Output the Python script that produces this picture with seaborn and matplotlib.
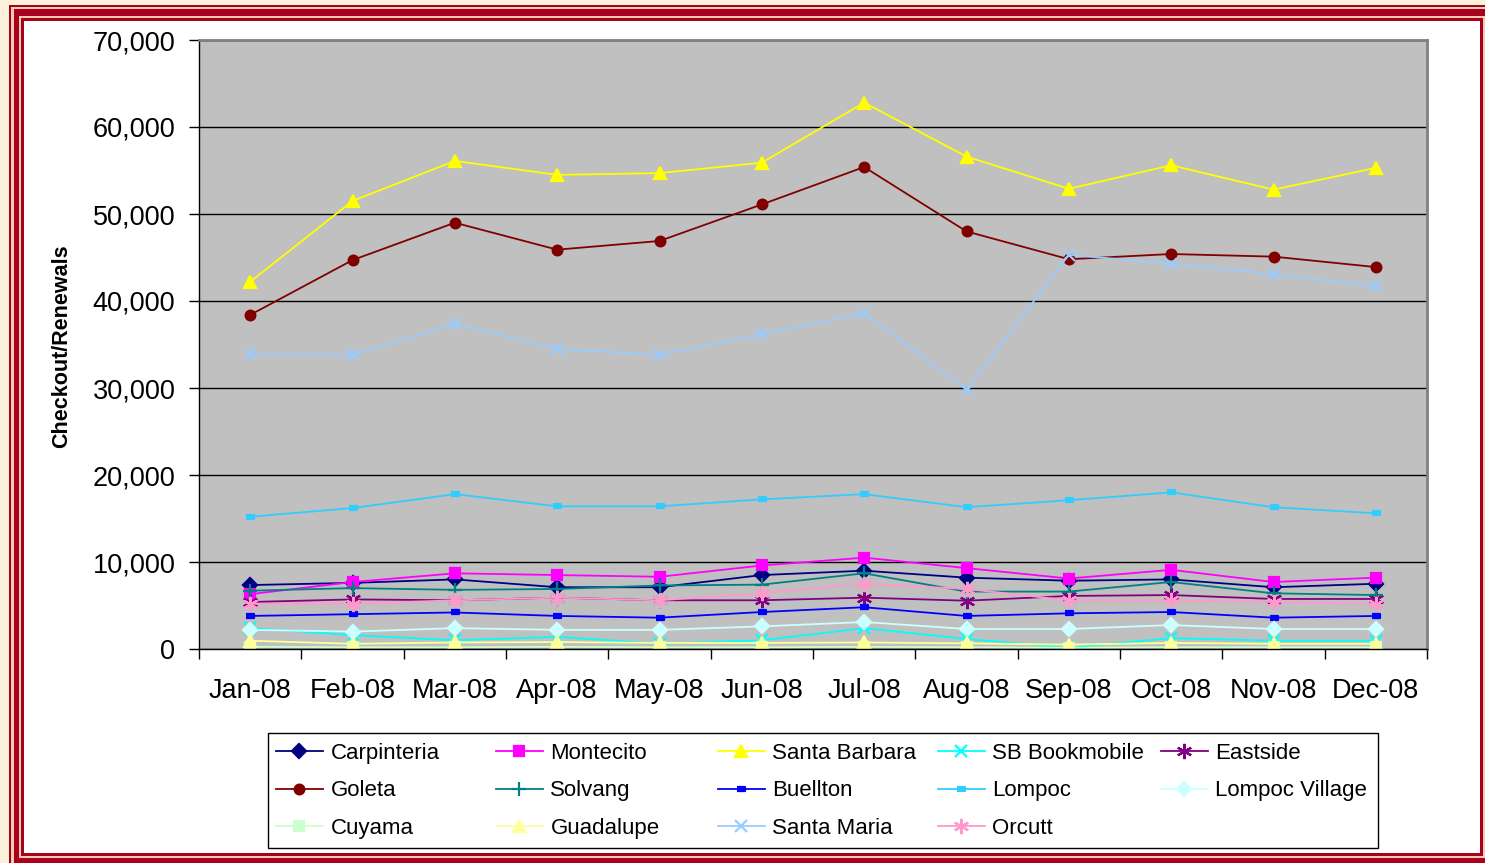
import numpy as np
import pandas as pd
import matplotlib
matplotlib.use("Agg")
import matplotlib.pyplot as plt
from matplotlib.patches import Rectangle
from matplotlib.ticker import FuncFormatter, FixedLocator
import seaborn as sns

# -------------------------
# Data
# -------------------------
months = ["Jan-08", "Feb-08", "Mar-08", "Apr-08", "May-08", "Jun-08",
          "Jul-08", "Aug-08", "Sep-08", "Oct-08", "Nov-08", "Dec-08"]

carpinteria = [7350, 7600, 8000, 7100, 7100, 8500, 9000, 8200, 7850, 8000, 7100, 7500]
montecito = [6300, 7700, 8700, 8500, 8300, 9600, 10500, 9300, 8100, 9100, 7700, 8200]
santa_barbara = [42200, 51500, 56100, 54500, 54700, 55900, 62800, 56600, 52900, 55600, 52800, 55300]
sb_bookmobile = [2400, 1600, 1000, 1400, 600, 1000, 2400, 1150, 150, 1250, 950, 950]
eastside = [5400, 5700, 5600, 5900, 5600, 5600, 5900, 5550, 6100, 6200, 5750, 5750]
goleta = [38400, 44700, 49000, 45900, 46900, 51100, 55400, 48000, 44800, 45400, 45100, 43900]
solvang = [6700, 7000, 6800, 6900, 7300, 7400, 8700, 6600, 6600, 7700, 6400, 6200]
buellton = [3800, 4000, 4200, 3800, 3600, 4250, 4800, 3800, 4100, 4250, 3600, 3800]
lompoc = [15200, 16200, 17800, 16400, 16400, 17200, 17800, 16300, 17100, 18000, 16300, 15600]
lompoc_village = [2200, 2000, 2400, 2200, 2200, 2600, 3100, 2300, 2300, 2750, 2300, 2300]
cuyama = [250, 200, 200, 250, 200, 200, 250, 200, 150, 200, 200, 200]
guadalupe = [950, 600, 750, 800, 700, 700, 750, 650, 500, 700, 600, 600]
santa_maria = [33900, 33800, 37400, 34500, 33800, 36200, 38600, 29800, 45300, 44300, 43100, 41700]
orcutt = [5200, 5200, 5600, 5900, 5600, 6400, 7500, 6900, 5600, 5600, 5400, 5200]

branches = ["Carpinteria", "Montecito", "Santa Barbara", "SB Bookmobile", "Eastside",
            "Goleta", "Solvang", "Buellton", "Lompoc", "Lompoc Village",
            "Cuyama", "Guadalupe", "Santa Maria", "Orcutt"]
series = [carpinteria, montecito, santa_barbara, sb_bookmobile, eastside,
          goleta, solvang, buellton, lompoc, lompoc_village,
          cuyama, guadalupe, santa_maria, orcutt]

# -------------------------
# Styles (Excel 2003 look)
# -------------------------
dash = [(-1, -0.45), (1, -0.45), (1, 0.45), (-1, 0.45)]
star = (6, 2, 0)
styles = {
    "Carpinteria":    ("#000080", "D", 7),
    "Montecito":      ("#FF00FF", "s", 7),
    "Santa Barbara":  ("#FFFF00", "^", 8),
    "SB Bookmobile":  ("#00FFFF", "x", 8),
    "Eastside":       ("#800080", star, 11),
    "Goleta":         ("#800000", "o", 7),
    "Solvang":        ("#008080", "+", 10),
    "Buellton":       ("#0000FF", dash, 6),
    "Lompoc":         ("#33CCFF", dash, 6),
    "Lompoc Village": ("#CCFFFF", "D", 7),
    "Cuyama":         ("#CCFFCC", "s", 7),
    "Guadalupe":      ("#FFFF99", "^", 8),
    "Santa Maria":    ("#99CCFF", "x", 8),
    "Orcutt":         ("#FF99CC", star, 11),
}

plt.rcParams["font.family"] = ["Liberation Sans", "DejaVu Sans"]

W, H = 1485, 863
fig = plt.figure(figsize=(W / 100, H / 100), dpi=100)
fig.patch.set_facecolor("#FBF0D9")

def px_rect(x0, y0, x1, y1, color, z):
    fig.add_artist(Rectangle((x0 / W, 1 - y1 / H), (x1 - x0) / W, (y1 - y0) / H,
                             transform=fig.transFigure, facecolor=color,
                             edgecolor="none", zorder=z))

# double red frame
red, light = "#A8001F", "#F3CBAE"
px_rect(9, 5, 1495, 875, red, -10)
px_rect(11, 7, 1495, 875, light, -9)
px_rect(14, 9, 1495, 875, red, -8)
px_rect(19, 16, 1485, 858, light, -7)
px_rect(21, 18, 1483, 856, red, -6)
px_rect(24, 21, 1480, 853, "white", -5)

ax = fig.add_axes([199 / W, 1 - 649 / H, (1427 - 199) / W, (649 - 40) / H])
ax.set_facecolor("#C0C0C0")

x = np.arange(len(months))
handles = {}
for name, vals in zip(branches, series):
    color, mk, ms = styles[name]
    sns.lineplot(x=x, y=vals, ax=ax, color=color, linewidth=1.3,
                 marker=mk, markersize=ms, markerfacecolor=color,
                 markeredgecolor=color, markeredgewidth=1.6, legend=False)
    handles[name] = ax.lines[-1]

ax.set_xlim(-0.5, 11.5)
ax.set_ylim(0, 70000)
ax.set_yticks(np.arange(0, 70001, 10000))
ax.yaxis.set_major_formatter(FuncFormatter(lambda v, p: f"{int(v):,}"))
ax.grid(axis="y", color="black", linewidth=1)
ax.set_axisbelow(True)

ax.set_xticks(x)
ax.set_xticklabels(months)
ax.xaxis.set_minor_locator(FixedLocator(np.arange(-0.5, 12, 1)))
ax.tick_params(axis="x", which="major", length=0, pad=21, labelsize=19.5)
ax.tick_params(axis="x", which="minor", length=7, width=1, color="black")
ax.tick_params(axis="y", length=7, width=1, pad=10, labelsize=19.5)

for s in ["left", "bottom"]:
    ax.spines[s].set_color("black")
    ax.spines[s].set_linewidth(1)
for s in ["top", "right"]:
    ax.spines[s].set_color("#808080")
    ax.spines[s].set_linewidth(2)
ax.set_xlabel("")
ax.set_ylabel("")

fig.text(62 / W, 1 - 346 / H, "Checkout/Renewals", rotation=90,
         ha="center", va="center", fontsize=15.5, fontweight="bold")

# -------------------------
# Legend: boxed, five columns filled row by row
# -------------------------
fig.add_artist(Rectangle((268 / W, 1 - 848 / H), (1378 - 268) / W, (848 - 733) / H,
                         transform=fig.transFigure, facecolor="white",
                         edgecolor="black", linewidth=1, zorder=1))
col_x = [276, 496, 718, 938, 1161]
for c in range(5):
    names = branches[c::5]
    leg = fig.legend([handles[n] for n in names], names, loc="upper left",
                     bbox_to_anchor=(col_x[c] / W, 1 - 743 / H),
                     bbox_transform=fig.transFigure, frameon=False,
                     fontsize=16, handlelength=2.1, handletextpad=0.35,
                     labelspacing=0.74, borderpad=0, borderaxespad=0)
    leg.set_zorder(2)

fig.savefig("out.png", dpi=100, facecolor=fig.get_facecolor())
